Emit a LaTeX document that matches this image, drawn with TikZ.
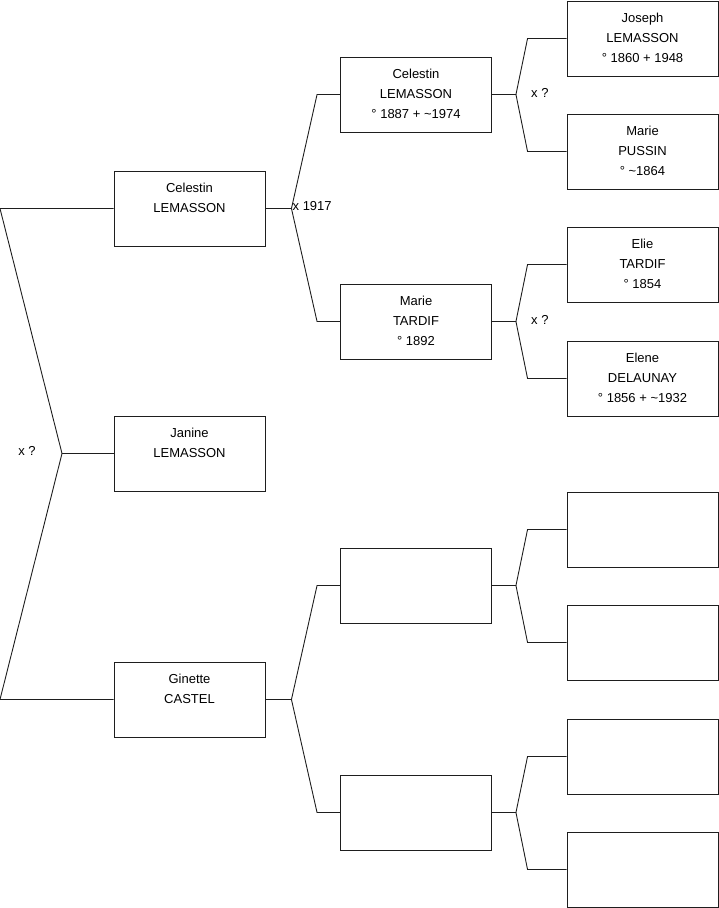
\documentclass[tikz,border=0pt]{standalone}
\usepackage{fontspec}
\setmainfont{Liberation Sans}
\usepackage{xcolor}
\usetikzlibrary{calc,positioning}
\definecolor{linec}{HTML}{1E1E1E}
\newcommand{\who}[1]{\parbox[c][51pt][t]{145pt}{\centering\fontsize{13}{20}\selectfont #1}}
\tikzset{
  pbox/.style={draw=linec,line width=0.9pt,minimum width=151pt,minimum height=75pt,inner sep=0pt,fill=white},
  lnk/.style={draw=linec,line width=0.9pt},
  mar/.style={font=\fontsize{13}{15}\selectfont,inner sep=1pt}
}

\begin{document}
\begin{tikzpicture}[x=1pt,y=-1pt]
\useasboundingbox (0,0) rectangle (719,908);
\coordinate (lft) at (0,0);
% child and parents
\node[pbox] (f) at (189.5,208.5) {\who{Celestin\\LEMASSON}};
\node[pbox] (c) at (189.5,453.5) {\who{Janine\\LEMASSON}};
\node[pbox] (m) at (189.5,699.5) {\who{Ginette\\CASTEL}};
% grandparents
\node[pbox] (ff) at (416,94.5) {\who{Celestin\\LEMASSON\\\textdegree{} 1887 + \textasciitilde1974}};
\node[pbox] (fm) at (416,321.5) {\who{Marie\\TARDIF\\\textdegree{} 1892}};
\node[pbox] (mf) at (416,585.5) {};
\node[pbox] (mm) at (416,812.5) {};
% great-grandparents
\node[pbox] (fff) at (642.5,38.5) {\who{Joseph\\LEMASSON\\\textdegree{} 1860 + 1948}};
\node[pbox] (ffm) at (642.5,151.5) {\who{Marie\\PUSSIN\\\textdegree{} \textasciitilde1864}};
\node[pbox] (fmf) at (642.5,264.5) {\who{Elie\\TARDIF\\\textdegree{} 1854}};
\node[pbox] (fmm) at (642.5,378.5) {\who{Elene\\DELAUNAY\\\textdegree{} 1856 + \textasciitilde1932}};
\node[pbox] (mff) at (642.5,529.5) {};
\node[pbox] (mfm) at (642.5,642.5) {};
\node[pbox] (mmf) at (642.5,756.5) {};
\node[pbox] (mmm) at (642.5,869.5) {};

% left bracket
\coordinate (ck) at (62,453.5);
\draw[lnk] (f.west) -- (f.west -| lft) -- (ck) -- (m.west -| lft) -- (m.west);
\draw[lnk] (ck) -- (c.west);
\node[mar] (cx) at (27,451) {x ?};

% forks to grandparents
\foreach \p/\a/\b in {f/ff/fm, m/mf/mm}{
  \draw[lnk] (\p.east) -- ++(26,0) coordinate (\p k) -- ([xshift=-23pt]\a.west) -- (\a.west);
  \draw[lnk] (\p k) -- ([xshift=-23pt]\b.west) -- (\b.west);
}
\node[mar,anchor=west,yshift=2pt] (fx) at (fk) {x 1917};

% forks to great-grandparents
\foreach \p/\a/\b in {ff/fff/ffm, fm/fmf/fmm, mf/mff/mfm, mm/mmf/mmm}{
  \draw[lnk] (\p.east) -- ++(24,0) coordinate (\p k) -- ([xshift=-39pt]\a.west) -- (\a.west);
  \draw[lnk] (\p k) -- ([xshift=-39pt]\b.west) -- (\b.west);
}
\node[mar,anchor=west,xshift=14pt,yshift=2pt] (ffx) at (ffk) {x ?};
\node[mar,anchor=west,xshift=14pt,yshift=2pt] (fmx) at (fmk) {x ?};
\end{tikzpicture}
\end{document}
